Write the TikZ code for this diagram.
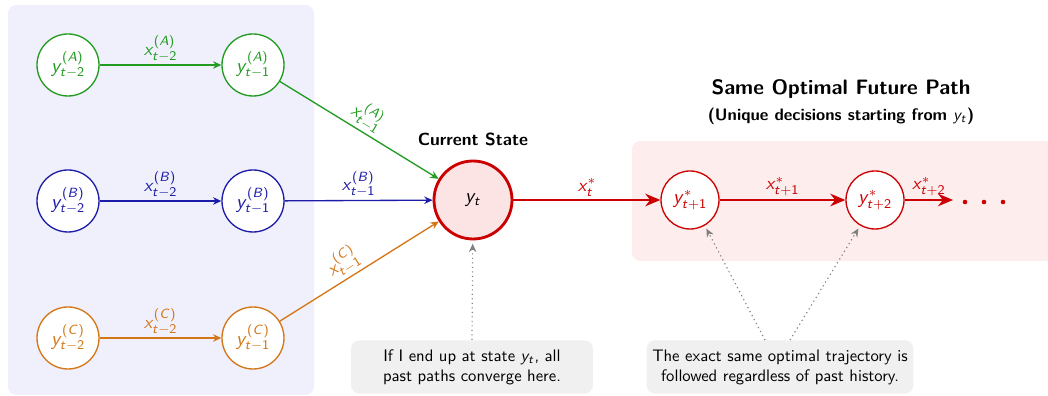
\documentclass[tikz,border=0pt]{standalone}
\DeclareSymbolFont{sfletters}{OT1}{cmss}{m}{sl}
\DeclareSymbolFont{sfops}{OT1}{cmss}{m}{n}
\DeclareMathSymbol{x}{\mathalpha}{sfletters}{`x}
\DeclareMathSymbol{y}{\mathalpha}{sfletters}{`y}
\DeclareMathSymbol{t}{\mathalpha}{sfletters}{`t}
\DeclareMathSymbol{A}{\mathalpha}{sfletters}{`A}
\DeclareMathSymbol{B}{\mathalpha}{sfletters}{`B}
\DeclareMathSymbol{C}{\mathalpha}{sfletters}{`C}
\DeclareMathSymbol{1}{\mathalpha}{sfops}{`1}
\DeclareMathSymbol{2}{\mathalpha}{sfops}{`2}
\DeclareMathSymbol{(}{\mathopen}{sfops}{`(}
\DeclareMathSymbol{)}{\mathclose}{sfops}{`)}
\DeclareMathSymbol{+}{\mathbin}{sfops}{`+}
\usetikzlibrary{arrows.meta,calc}
\definecolor{cgreen}{RGB}{34,155,34}
\definecolor{cblue}{RGB}{28,28,168}
\definecolor{corange}{RGB}{212,118,22}
\definecolor{cred}{RGB}{204,0,0}
\definecolor{leftbg}{RGB}{240,240,252}
\definecolor{rightbg}{RGB}{253,237,237}
\definecolor{ytfill}{RGB}{253,228,228}
\definecolor{notebg}{RGB}{240,240,240}
\tikzset{
  past/.style={circle, draw, line width=0.8pt, fill=white, minimum size=37.2pt, inner sep=0pt, font=\sffamily\large},
  futr/.style={circle, draw=cred, text=cred, line width=0.8pt, fill=white, minimum size=34.8pt, inner sep=0pt, font=\sffamily\large},
  cur/.style={circle, draw=cred, line width=1.7pt, fill=ytfill, minimum size=46.8pt, inner sep=0pt, font=\sffamily\large},
  pastedge/.style={line width=0.8pt, -{Stealth[length=5pt,width=4.5pt]}},
  optedge/.style={cred, line width=1.7pt, -{Stealth[length=9pt,width=7.5pt]}},
  note/.style={rounded corners=5pt, fill=notebg, align=center, minimum height=32pt, font=\sffamily},
  hint/.style={gray, dotted, line width=0.7pt, -{Stealth[length=5pt,width=4.5pt]}, shorten >=2pt},
  elab/.style={font=\sffamily\fontsize{10.8}{12}\selectfont, inner sep=1.5pt}
}
\begin{document}
\begin{tikzpicture}[x=0.6pt,y=-0.6pt]
\useasboundingbox (0,0) rectangle (1048,396);
\fill[leftbg, rounded corners=5pt] (8,5) rectangle (314,395);
\fill[rightbg, rounded corners=5pt] (632,141) rectangle (1070,261);

% past nodes
\node[past, draw=cgreen, text=cgreen] (a1) at (68,65) {$y_{t-2}^{(A)}$};
\node[past, draw=cgreen, text=cgreen] (a2) at (253,65) {$y_{t-1}^{(A)}$};
\node[past, draw=cblue, text=cblue] (b1) at (68,201) {$y_{t-2}^{(B)}$};
\node[past, draw=cblue, text=cblue] (b2) at (253,201) {$y_{t-1}^{(B)}$};
\node[past, draw=corange, text=corange] (c1) at (68,338) {$y_{t-2}^{(C)}$};
\node[past, draw=corange, text=corange] (c2) at (253,338) {$y_{t-1}^{(C)}$};

% current
\node[cur] (yt) at (473,200) {$y_t$};
\node[font=\sffamily\bfseries\fontsize{10.5}{12}\selectfont] (curlab) at (473,139) {Current State};

% future
\node[futr] (y1) at (690,200) {$y^{*}_{t+1}$};
\node[futr] (y2) at (875,200) {$y^{*}_{t+2}$};
\coordinate (yend) at (953,200);
\fill[cred] (965,202) circle (2.3);
\fill[cred] (984,202) circle (2.3);
\fill[cred] (1003,202) circle (2.3);

\node[font=\sffamily\bfseries\fontsize{12.5}{15}\selectfont] (title) at (841,89) {Same Optimal Future Path};
\node[font=\sffamily\bfseries] (subtitle) at (841,116) {(Unique decisions starting from $y_t$)};

% past edges
\draw[pastedge, cgreen] (a1) -- node[elab, above, text=cgreen] {$x_{t-2}^{(A)}$} (a2);
\draw[pastedge, cblue] (b1) -- node[elab, above, text=cblue] {$x_{t-2}^{(B)}$} (b2);
\draw[pastedge, corange] (c1) -- node[elab, above, text=corange] {$x_{t-2}^{(C)}$} (c2);
\draw[pastedge, cgreen] (a2) -- node[elab, above, sloped, pos=0.5, text=cgreen] {$x_{t-1}^{(A)}$} (yt);
\draw[pastedge, cblue] (b2) -- node[elab, above, text=cblue] {$x_{t-1}^{(B)}$} (yt);
\draw[pastedge, corange] (c2) -- node[elab, above, sloped, pos=0.45, text=corange] {$x_{t-1}^{(C)}$} (yt);

% optimal edges
\draw[optedge] (yt) -- node[elab, above, text=cred] {$x_t^{*}$} (y1);
\draw[optedge] (y1) -- node[elab, above, text=cred] {$x_{t+1}^{*}$} (y2);
\draw[optedge] (y2) -- node[elab, above, text=cred] {$x_{t+2}^{*}$} (yend);

% notes
\node[note, minimum width=145pt] (n1) at (472,367) {If I end up at state $y_t$, all\\past paths converge here.};
\node[note, minimum width=160pt] (n2) at (780,367) {The exact same optimal trajectory is\\followed regardless of past history.};

\draw[hint] (n1.north) -- (yt);
\draw[hint] ($(n2.north)+(-15,0)$) -- (y1.-60);
\draw[hint] ($(n2.north)+(10,0)$) -- (y2.-120);
\end{tikzpicture}
\end{document}
